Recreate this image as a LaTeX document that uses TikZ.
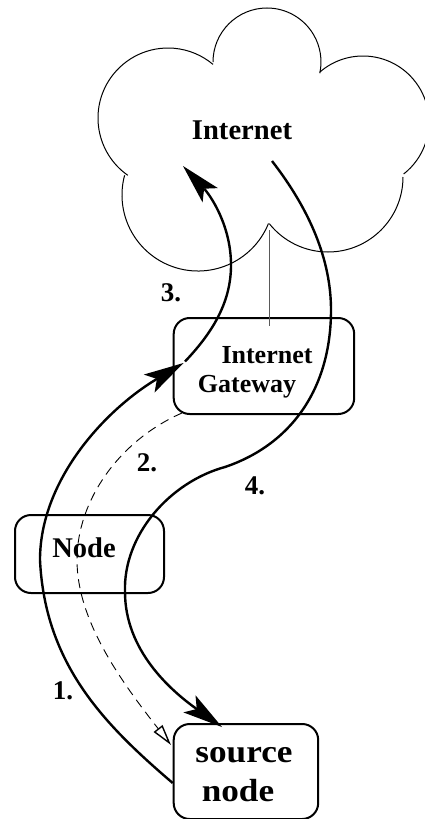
\documentclass[tikz,border=0pt]{standalone}
\usepackage{graphicx}
\usepackage{fontspec}
\setmainfont{Liberation Serif}
\usetikzlibrary{arrows.meta}
\tikzset{
  box/.style={draw=black,line width=2pt,rounded corners=16pt,inner sep=0pt,anchor=north west},
  lab/.style={inner sep=0pt,anchor=base,font=\fontsize{#1}{#1}\selectfont\bfseries,text=black},
  cloudline/.style={line width=1pt,black},
  route/.style={line width=2.4pt,black},
  bigtip/.style={-{Stealth[length=40pt,width=21pt,inset=9pt,line width=0pt]}},
  dashroute/.style={line width=0.9pt,dash pattern=on 9pt off 6pt,black},
  link/.style={line width=1pt,black!65},
}
\begin{document}
\begin{tikzpicture}[x=1pt,y=1pt]
\useasboundingbox (0,-819) rectangle (425,0);
% cloud
\draw[cloudline] (168,-118)+(235:70) arc[start angle=235,end angle=50,radius=70];
\draw[cloudline] (267,-62)+(180:54) arc[start angle=180,end angle=-12,radius=54];
\draw[cloudline] (363,-122)+(131:66) arc[start angle=131,end angle=-52,radius=66];
\draw[cloudline] (328,-177)+(0:75) arc[start angle=360,end angle=218.5,radius=75];
\draw[cloudline] (198,-195)+(-22:76) arc[start angle=-22,end angle=-195,radius=76];
% boxes
\node[box,minimum width=180.5pt,minimum height=96pt] (gateway) at (172.7,-317) {};
\node[box,minimum width=149pt,minimum height=78pt] (relay) at (14,-514) {};
\node[box,minimum width=144.5pt,minimum height=95pt] (source) at (172.7,-723) {};
% labels
\node[lab=28.6] (tinternet) at (242,-139) {Internet};
\node[lab=26] (tgw1) at (267,-363) {Internet};
\node[lab=26] (tgw2) at (247,-392) {Gateway};
\node[lab=28.5] (trelay) at (84,-557) {Node};
\node[lab=32] (tsrc1) at (244,-762) {\scalebox{1.1}[1]{source}};
\node[lab=32] (tsrc2) at (238,-801) {\scalebox{1.1}[1]{node}};
\node[lab=27] (n1) at (63,-699) {1.};
\node[lab=27] (n2) at (147,-471) {2.};
\node[lab=27] (n3) at (171,-301) {3.};
\node[lab=27] (n4) at (255,-494) {4.};
% named ends
\coordinate (cusp) at (269,-230);
\coordinate (gwlink) at (269,-326);
\coordinate (s1) at (172.7,-783);
\coordinate (g1) at (183.5,-363);
\coordinate (g3) at (185,-361.5);
\coordinate (c3) at (183,-166);
\coordinate (c4) at (272,-161);
\coordinate (s4) at (222,-727);
\coordinate (g2) at (182,-413);
\coordinate (s2) at (171,-745);
% connectors
\draw[link] (cusp) -- (gwlink);
\draw[route,bigtip] (s1) .. controls (105,-725) and (45,-665) .. (40,-560)
  .. controls (40,-480) and (105,-410) .. (g1);
\draw[route,bigtip] (g3) .. controls (215,-330) and (231,-300) .. (231,-265)
  .. controls (231,-225) and (210,-195) .. (c3);
\draw[route,bigtip] (c4) .. controls (310,-210) and (331,-260) .. (331,-310)
  .. controls (331,-390) and (290,-445) .. (225,-467)
  .. controls (170,-482) and (123,-535) .. (125,-592)
  .. controls (125,-650) and (170,-690) .. (s4);
\draw[dashroute,-{Triangle[open,length=21pt,width=11pt,line width=1.4pt]}] (g2) .. controls (120,-440) and (77,-500) .. (77,-560)
  .. controls (77,-620) and (120,-680) .. (s2);
\end{tikzpicture}
\end{document}
